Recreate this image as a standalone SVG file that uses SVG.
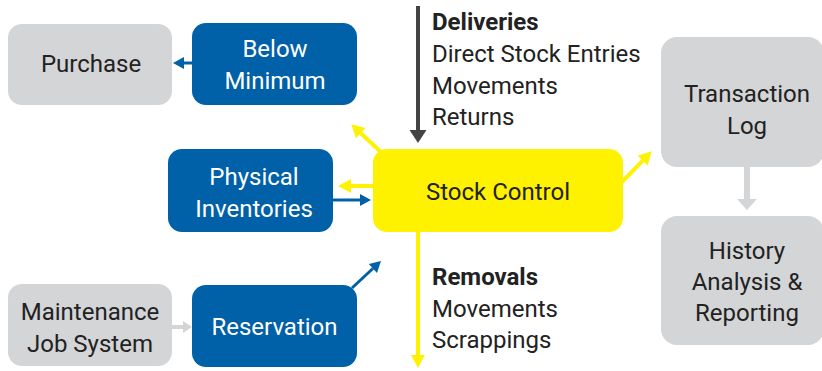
<svg xmlns="http://www.w3.org/2000/svg" width="822" height="371" viewBox="0 0 822 371">
<style>
.gray{fill:#D4D5D7}
.blue{fill:#0060A8}
.yel{fill:#FFF200}
.t{font-family:Roboto,"Liberation Sans",sans-serif;font-size:24px;text-anchor:middle}
.td{fill:#222222}
.tw{fill:#FFFFFF}
.lst{font-family:Roboto,"Liberation Sans",sans-serif;font-size:24px;fill:#222222}
.b{font-weight:bold}
.cb{stroke:#0060A8;stroke-width:3;fill:none}
.cy{stroke:#FFF200;stroke-width:4;fill:none}
.cd{stroke:#444444;stroke-width:4;fill:none}
.cg{stroke:#D4D5D7;stroke-width:4;fill:none}
.cg2{stroke:#D4D5D7;stroke-width:6;fill:none}
</style>
<defs>
<marker id="mb" markerUnits="userSpaceOnUse" markerWidth="14" markerHeight="14" refX="0" refY="7" orient="auto" overflow="visible"><path d="M0,1 L11,7 L0,13 Z" fill="#0060A8"/></marker>
<marker id="my" markerUnits="userSpaceOnUse" markerWidth="16" markerHeight="16" refX="0" refY="8" orient="auto" overflow="visible"><path d="M0,1 L13,8 L0,15 Z" fill="#FFF200"/></marker>
<marker id="md" markerUnits="userSpaceOnUse" markerWidth="18" markerHeight="18" refX="0" refY="9" orient="auto" overflow="visible"><path d="M0,0.5 L13,9 L0,17.5 Z" fill="#444444"/></marker>
<marker id="mg" markerUnits="userSpaceOnUse" markerWidth="14" markerHeight="14" refX="0" refY="7" orient="auto" overflow="visible"><path d="M0,1 L9,7 L0,13 Z" fill="#D4D5D7"/></marker>
<marker id="mg2" markerUnits="userSpaceOnUse" markerWidth="22" markerHeight="22" refX="0" refY="11" orient="auto" overflow="visible"><path d="M0,1 L11,11 L0,21 Z" fill="#D4D5D7"/></marker>
</defs>

<g id="connectors">
<line class="cb" x1="193" y1="63" x2="184" y2="63" marker-end="url(#mb)"/>
<line class="cb" x1="333" y1="200" x2="360" y2="200" marker-end="url(#mb)"/>
<line class="cy" x1="374" y1="186" x2="351" y2="186" marker-end="url(#my)"/>
<line class="cy" x1="381" y1="152" x2="360.8" y2="133.2" marker-end="url(#my)"/>
<line class="cy" x1="621" y1="183" x2="642.7" y2="160.6" marker-end="url(#my)"/>
<line class="cd" x1="418" y1="6" x2="418" y2="130" marker-end="url(#md)"/>
<line class="cy" x1="418" y1="231" x2="418" y2="355" marker-end="url(#my)"/>
<line class="cb" x1="352" y1="288" x2="372.9" y2="268.5" marker-end="url(#mb)"/>
<line class="cg" x1="172" y1="327" x2="183" y2="327" marker-end="url(#mg)"/>
<line class="cg2" x1="747" y1="167" x2="747" y2="199" marker-end="url(#mg2)"/>
</g>

<g id="purchase">
<rect class="gray" x="8" y="24" width="164" height="81" rx="14"/>
<text class="t td" x="91" y="72">Purchase</text>
</g>

<g id="below-minimum">
<rect class="blue" x="192" y="23" width="165" height="82" rx="14"/>
<text class="t tw" x="275" y="57">Below</text>
<text class="t tw" x="275" y="89">Minimum</text>
</g>

<g id="physical-inventories">
<rect class="blue" x="168" y="149" width="165" height="83" rx="14"/>
<text class="t tw" x="254" y="185">Physical</text>
<text class="t tw" x="254" y="217">Inventories</text>
</g>

<g id="stock-control">
<rect class="yel" x="373" y="149" width="250" height="83" rx="14"/>
<text class="t td" x="498" y="200">Stock Control</text>
</g>

<g id="deliveries-list">
<text class="lst b" x="432" y="30">Deliveries</text>
<text class="lst" x="432" y="62">Direct Stock Entries</text>
<text class="lst" x="432" y="94">Movements</text>
<text class="lst" x="432" y="125">Returns</text>
</g>

<g id="removals-list">
<text class="lst b" x="432" y="285">Removals</text>
<text class="lst" x="432" y="317">Movements</text>
<text class="lst" x="432" y="348">Scrappings</text>
</g>

<g id="transaction-log">
<rect class="gray" x="661" y="37" width="163" height="130" rx="16"/>
<text class="t td" x="747" y="102">Transaction</text>
<text class="t td" x="747" y="134">Log</text>
</g>

<g id="history">
<rect class="gray" x="661" y="216" width="163" height="129" rx="16"/>
<text class="t td" x="747" y="259">History</text>
<text class="t td" x="747" y="290">Analysis &amp;</text>
<text class="t td" x="747" y="321">Reporting</text>
</g>

<g id="maintenance">
<rect class="gray" x="8" y="284" width="164" height="82" rx="14"/>
<text class="t td" x="90" y="320">Maintenance</text>
<text class="t td" x="90" y="352">Job System</text>
</g>

<g id="reservation">
<rect class="blue" x="192" y="285" width="165" height="82" rx="14"/>
<text class="t tw" x="274.5" y="335">Reservation</text>
</g>
</svg>
